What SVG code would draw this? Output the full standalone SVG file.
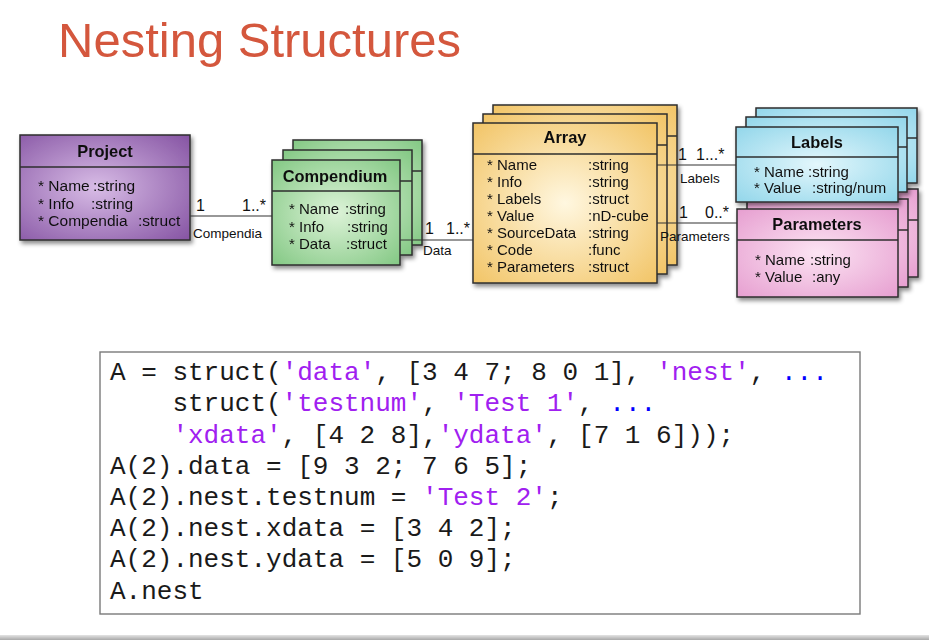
<svg xmlns="http://www.w3.org/2000/svg" width="929" height="640" viewBox="0 0 929 640">
<defs>
<radialGradient id="gP" cx="0.45" cy="0.5" r="0.75"><stop offset="0" stop-color="#D8BCE6"/><stop offset="1" stop-color="#8452A2"/></radialGradient>
<radialGradient id="gG" cx="0.5" cy="0.5" r="0.75"><stop offset="0" stop-color="#DDF3D8"/><stop offset="1" stop-color="#7DC57E"/></radialGradient>
<radialGradient id="gO" cx="0.5" cy="0.5" r="0.75"><stop offset="0" stop-color="#FFF7E0"/><stop offset="1" stop-color="#F1C15E"/></radialGradient>
<radialGradient id="gC" cx="0.5" cy="0.5" r="0.75"><stop offset="0" stop-color="#E3F7FC"/><stop offset="1" stop-color="#8DD4E9"/></radialGradient>
<radialGradient id="gK" cx="0.5" cy="0.5" r="0.75"><stop offset="0" stop-color="#FCE4F3"/><stop offset="1" stop-color="#E59ACE"/></radialGradient>
<linearGradient id="gBar" x1="0" y1="0" x2="0" y2="1"><stop offset="0" stop-color="#e4e4e4"/><stop offset="1" stop-color="#a8a8a8"/></linearGradient>
<filter id="sh" x="-10%" y="-10%" width="130%" height="140%"><feDropShadow dx="2" dy="3" stdDeviation="2" flood-color="#000" flood-opacity="0.45"/></filter>
</defs>
<style>
.box{stroke:#2e2e2e;stroke-width:1.5}
.sep{stroke:#2e2e2e;stroke-width:1.5}
.t{font-family:"Liberation Sans",Arial,sans-serif;font-weight:bold;font-size:16.4px;fill:#111;text-anchor:middle}
.a{font-family:"Liberation Sans",Arial,sans-serif;font-size:15px;fill:#111}
.c{font-family:"Liberation Sans",Arial,sans-serif;font-size:13.5px;fill:#111}
.m{font-family:"Liberation Sans",Arial,sans-serif;font-size:16px;fill:#111}
.ln{stroke:#333;stroke-width:1.2;fill:none}
.code{font-family:"Liberation Mono","Courier New",monospace;font-size:26px;fill:#1a1a1a}
.s{fill:#A020F0}
.b{fill:#0000FF}
</style>
<rect width="929" height="640" fill="#fff"/>
<text x="58" y="57" font-family="Liberation Sans,Arial,sans-serif" font-size="49" fill="#D4573D">Nesting Structures</text>

<g id="project" filter="url(#sh)">
<rect class="box" x="20" y="135" width="170" height="105" fill="url(#gP)"/>
<line class="sep" x1="20" y1="167" x2="190" y2="167"/>
<text class="t" x="105" y="157">Project</text>
<text class="a" x="38" y="191" style="font-size:15.5px">* Name</text><text class="a" x="93" y="191" style="font-size:15.5px">:string</text>
<text class="a" x="38" y="208.5" style="font-size:15.5px">* Info</text><text class="a" x="91" y="208.5" style="font-size:15.5px">:string</text>
<text class="a" x="38" y="226" style="font-size:15.5px">* Compendia</text><text class="a" x="138" y="226" style="font-size:15.5px">:struct</text>
</g>

<g id="compendium" filter="url(#sh)">
<rect class="box" x="293" y="140" width="129" height="105" fill="url(#gG)"/>
<line class="sep" x1="293" y1="171" x2="422" y2="171"/>
<rect class="box" x="283" y="150" width="129" height="105" fill="url(#gG)"/>
<line class="sep" x1="283" y1="181" x2="412" y2="181"/>
<rect class="box" x="272" y="160" width="128" height="105" fill="url(#gG)"/>
<line class="sep" x1="272" y1="191" x2="400" y2="191"/>
<text class="t" x="335" y="182">Compendium</text>
<text class="a" x="289" y="214">* Name</text><text class="a" x="345" y="214">:string</text>
<text class="a" x="289" y="231.5">* Info</text><text class="a" x="347" y="231.5">:string</text>
<text class="a" x="289" y="249">* Data</text><text class="a" x="346" y="249">:struct</text>
</g>

<g id="array" filter="url(#sh)">
<rect class="box" x="493" y="105" width="184" height="160" fill="url(#gO)"/>
<line class="sep" x1="493" y1="136" x2="677" y2="136"/>
<rect class="box" x="483" y="114" width="184" height="160" fill="url(#gO)"/>
<line class="sep" x1="483" y1="145" x2="667" y2="145"/>
<rect class="box" x="473" y="123" width="184" height="160" fill="url(#gO)"/>
<line class="sep" x1="473" y1="154" x2="657" y2="154"/>
<text class="t" x="565" y="143">Array</text>
<text class="a" x="487" y="170">* Name</text><text class="a" x="588" y="170">:string</text>
<text class="a" x="487" y="187">* Info</text><text class="a" x="588" y="187">:string</text>
<text class="a" x="487" y="204">* Labels</text><text class="a" x="588" y="204">:struct</text>
<text class="a" x="487" y="221">* Value</text><text class="a" x="588" y="221">:nD-cube</text>
<text class="a" x="487" y="238">* SourceData</text><text class="a" x="588" y="238">:string</text>
<text class="a" x="487" y="255">* Code</text><text class="a" x="588" y="255">:func</text>
<text class="a" x="487" y="272">* Parameters</text><text class="a" x="588" y="272">:struct</text>
</g>

<g id="parameters" filter="url(#sh)">
<rect class="box" x="757" y="189" width="161" height="88" fill="url(#gK)"/>
<line class="sep" x1="757" y1="220" x2="918" y2="220"/>
<rect class="box" x="747" y="199" width="161" height="88" fill="url(#gK)"/>
<line class="sep" x1="747" y1="230" x2="908" y2="230"/>
<rect class="box" x="737" y="209" width="161" height="88" fill="url(#gK)"/>
<line class="sep" x1="737" y1="240" x2="898" y2="240"/>
<text class="t" x="817" y="230">Parameters</text>
<text class="a" x="755" y="265">* Name</text><text class="a" x="810" y="265">:string</text>
<text class="a" x="755" y="282">* Value</text><text class="a" x="812" y="282">:any</text>
</g>

<g id="labels" filter="url(#sh)">
<rect class="box" x="756" y="108" width="161" height="75" fill="url(#gC)"/>
<line class="sep" x1="756" y1="138" x2="917" y2="138"/>
<rect class="box" x="746" y="117" width="161" height="75" fill="url(#gC)"/>
<line class="sep" x1="746" y1="147" x2="907" y2="147"/>
<rect class="box" x="736" y="127" width="162" height="75" fill="url(#gC)"/>
<line class="sep" x1="736" y1="157" x2="898" y2="157"/>
<text class="t" x="817" y="148">Labels</text>
<text class="a" x="754" y="177">* Name</text><text class="a" x="808" y="177">:string</text>
<text class="a" x="754" y="193">* Value</text><text class="a" x="812" y="193">:string/num</text>
</g>

<g id="connectors">
<line class="ln" x1="190" y1="216" x2="272" y2="216"/>
<text class="m" x="196" y="211">1</text><text class="m" x="242" y="211">1..*</text>
<text class="c" x="193" y="238">Compendia</text>
<line class="ln" x1="400" y1="240" x2="473" y2="240"/>
<text class="m" x="425" y="234">1</text><text class="m" x="446" y="234">1..*</text>
<text class="c" x="423" y="255">Data</text>
<line class="ln" x1="657" y1="165" x2="736" y2="165"/>
<text class="m" x="678" y="160">1</text><text class="m" x="696" y="160">1...*</text>
<text class="c" x="680" y="183">Labels</text>
<line class="ln" x1="657" y1="223" x2="737" y2="223"/>
<text class="m" x="679" y="218">1</text><text class="m" x="705" y="218">0..*</text>
<text class="c" x="660" y="241">Parameters</text>
</g>

<g id="code">
<rect x="100" y="352" width="760" height="262" fill="#fff" stroke="#7a7a7a" stroke-width="1.4"/>
<text class="code" x="110" y="380" xml:space="preserve">A = struct(<tspan class="s">'data'</tspan>, [3 4 7; 8 0 1], <tspan class="s">'nest'</tspan>, <tspan class="b">...</tspan></text>
<text class="code" x="172.4" y="411.3" xml:space="preserve">struct(<tspan class="s">'testnum'</tspan>, <tspan class="s">'Test 1'</tspan>, <tspan class="b">...</tspan></text>
<text class="code" x="172.4" y="442.5" xml:space="preserve"><tspan class="s">'xdata'</tspan>, [4 2 8],<tspan class="s">'ydata'</tspan>, [7 1 6]));</text>
<text class="code" x="110" y="473.7" xml:space="preserve">A(2).data = [9 3 2; 7 6 5];</text>
<text class="code" x="110" y="505" xml:space="preserve">A(2).nest.testnum = <tspan class="s">'Test 2'</tspan>;</text>
<text class="code" x="110" y="536.2" xml:space="preserve">A(2).nest.xdata = [3 4 2];</text>
<text class="code" x="110" y="567.4" xml:space="preserve">A(2).nest.ydata = [5 0 9];</text>
<text class="code" x="110" y="598.6" xml:space="preserve">A.nest</text>
</g>
<rect x="0" y="635" width="929" height="5" fill="url(#gBar)"/>
</svg>
